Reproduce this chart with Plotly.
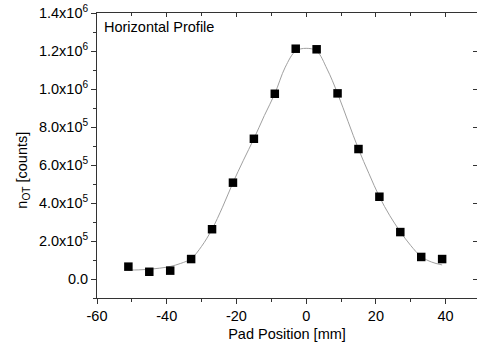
import plotly.graph_objects as go

# Measured points
pos = [-51, -45, -39, -33, -27, -21, -15, -9, -3, 3, 9, 15, 21, 27, 33, 39]
counts = [6.5e4, 3.8e4, 4.4e4, 1.05e5, 2.62e5, 5.07e5, 7.38e5, 9.75e5,
          1.212e6, 1.209e6, 9.77e5, 6.84e5, 4.33e5, 2.47e5, 1.16e5, 1.05e5]

# Fit curve
fit_x = [-51, -48, -45, -42, -39, -36, -33, -30, -27, -24, -21, -18, -15, -12, -9, -6,
         -3, 0, 3, 6, 9, 12, 15, 18, 21, 24, 27, 30, 33, 36, 39]
fit_y = [4.7e4, 4.8e4, 5.1e4, 5.7e4, 6.6e4, 8.2e4, 1.07e5, 1.72e5, 2.62e5, 3.78e5,
         5.07e5, 6.25e5, 7.38e5, 8.6e5, 9.75e5, 1.115e6, 1.2e6, 1.214e6, 1.2e6, 1.105e6,
         9.77e5, 8.3e5, 6.84e5, 5.55e5, 4.33e5, 3.33e5, 2.49e5, 1.76e5, 1.18e5, 8.9e4, 7.4e4]

x_ticks = [-60, -40, -20, 0, 20, 40]
x_minor = [-50, -30, -10, 10, 30]
y_ticks = [0, 2e5, 4e5, 6e5, 8e5, 1.0e6, 1.2e6, 1.4e6]
y_ticktext = ["0.0", "2.0x10<sup>5</sup>", "4.0x10<sup>5</sup>", "6.0x10<sup>5</sup>",
              "8.0x10<sup>5</sup>", "1.0x10<sup>6</sup>", "1.2x10<sup>6</sup>", "1.4x10<sup>6</sup>"]
y_minor = [-1e5, 1e5, 3e5, 5e5, 7e5, 9e5, 1.1e6, 1.3e6]

x_range = [-60, 49.0]
y_range = [-1e5, 1.4e6]

FONT = "Liberation Sans, Arial, sans-serif"
AX = "#333333"
FS = 14.5

fig = go.Figure()
fig.add_trace(go.Scatter(x=fit_x, y=fit_y, mode="lines", line=dict(color="#a0a0a0", width=1, shape="spline"),
                         hoverinfo="skip", showlegend=False))
fig.add_trace(go.Scatter(x=pos, y=counts, mode="markers",
                         marker=dict(symbol="square", size=8.5, color="black", line=dict(width=0)),
                         showlegend=False))

fig.update_layout(
    width=477, height=346,
    margin=dict(l=97, r=0, t=13, b=48),
    paper_bgcolor="white", plot_bgcolor="white",
    font=dict(family=FONT, size=FS, color="black"),
    xaxis=dict(range=x_range, tickvals=x_ticks, ticktext=[str(v) for v in x_ticks],
               ticks="outside", ticklen=5, tickwidth=1, tickcolor=AX,
               showline=True, linecolor=AX, linewidth=1, showgrid=False, zeroline=False,
               minor=dict(tickvals=x_minor, ticks="outside", ticklen=3, tickcolor=AX, showgrid=False),
               title=dict(text="Pad Position [mm]", standoff=5, font=dict(size=FS)),
               tickfont=dict(size=FS)),
    yaxis=dict(range=y_range, tickvals=y_ticks, ticktext=y_ticktext,
               ticks="outside", ticklen=5, tickwidth=1, tickcolor=AX,
               showline=True, linecolor=AX, linewidth=1, showgrid=False, zeroline=False,
               minor=dict(tickvals=y_minor, ticks="outside", ticklen=3, tickcolor=AX, showgrid=False),
               tickfont=dict(size=FS)),
    xaxis2=dict(range=x_range, overlaying="x", side="top", anchor="y", tickvals=x_ticks,
                showticklabels=False, ticks="inside", ticklen=4, tickcolor=AX,
                showline=True, linecolor=AX, linewidth=1, showgrid=False, zeroline=False,
                minor=dict(tickvals=x_minor, ticks="inside", ticklen=3, tickcolor=AX)),
    yaxis2=dict(range=y_range, overlaying="y", side="right", anchor="x", tickvals=y_ticks,
                showticklabels=False, ticks="inside", ticklen=4, tickcolor=AX,
                showline=False, showgrid=False, zeroline=False),
    annotations=[
        dict(text="Horizontal Profile", x=0.013, y=0.985, xref="paper", yref="paper",
             xanchor="left", yanchor="top", showarrow=False, font=dict(size=FS)),
        dict(text="n<sub>OT</sub> [counts]", x=-0.195, y=0.45, xref="paper", yref="paper",
             xanchor="center", yanchor="middle", textangle=-90, showarrow=False, font=dict(size=FS)),
    ],
)
# dummy trace to activate the mirror axes
fig.add_trace(go.Scatter(x=[None], y=[None], xaxis="x2", yaxis="y2", showlegend=False, hoverinfo="skip"))

fig.write_html("out.html")
